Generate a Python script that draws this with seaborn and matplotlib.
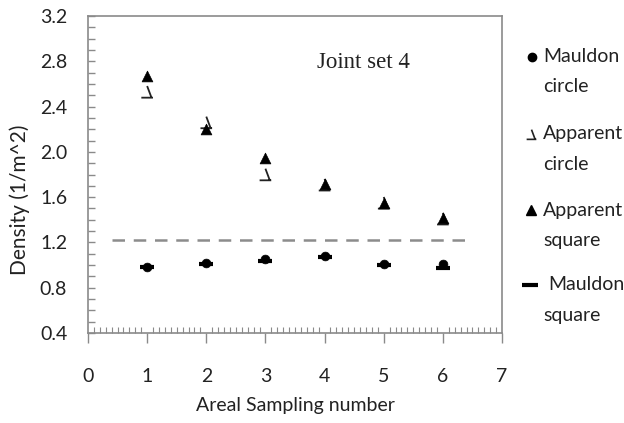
import numpy as np
import pandas as pd
import matplotlib
matplotlib.use("Agg")
import matplotlib.pyplot as plt
from matplotlib.path import Path
from matplotlib.lines import Line2D
import seaborn as sns

# ---- data ----
sampling = [1, 2, 3, 4, 5, 6]
mauldon_circle = [0.98, 1.02, 1.05, 1.08, 1.01, 1.01]
apparent_circle = [2.53, 2.26, 1.80, 1.71, 1.55, 1.41]
apparent_square = [2.67, 2.20, 1.95, 1.72, 1.55, 1.42]
mauldon_square = [0.98, 1.01, 1.04, 1.07, 1.00, 0.97]
ref_line_x = [0.4, 6.4]
ref_line_y = [1.22, 1.22]
series_labels = ["Mauldon\ncircle", "Apparent\ncircle", "Apparent\nsquare", "Mauldon\nsquare"]
y_ticks = [0.4, 0.8, 1.2, 1.6, 2.0, 2.4, 2.8, 3.2]
x_ticks = [0, 1, 2, 3, 4, 5, 6, 7]

sns.set_theme(style="white")
plt.rcParams['font.family'] = ['Lato', 'DejaVu Sans']

W, H = 624, 423
fig = plt.figure(figsize=(W / 100, H / 100), dpi=100)
ax = fig.add_axes([88 / W, 1 - 333 / H, 414 / W, 317 / H])

# custom angle marker for "Apparent circle"
angle_marker = Path([(-1, -1), (1, -1), (0, 1), (0.75, -1)],
                    [Path.MOVETO, Path.LINETO, Path.MOVETO, Path.LINETO])

df = pd.DataFrame({"x": sampling, "mc": mauldon_circle, "ac": apparent_circle,
                   "as": apparent_square, "ms": mauldon_square})

sns.lineplot(x=ref_line_x, y=ref_line_y, ax=ax, color="#8c8c8c", lw=1.8,
             dashes=False, linestyle=(0, (5, 3.5)))
sns.scatterplot(data=df, x="x", y="ac", ax=ax, marker=angle_marker, s=70,
                facecolor="none", edgecolor="#222222", linewidth=1.3)
sns.scatterplot(data=df, x="x", y="as", ax=ax, marker="^", s=60,
                color="black", edgecolor="black", linewidth=0.5)
sns.scatterplot(data=df, x="x", y="mc", ax=ax, marker="o", s=40,
                color="black", edgecolor="black", linewidth=0.5)
sns.scatterplot(data=df, x="x", y="ms", ax=ax, marker="_", s=110,
                color="black", linewidth=3.0)

ax.set_xlim(0, 7)
ax.set_ylim(0.4, 3.2)
ax.set_xticks(x_ticks)
ax.set_yticks(y_ticks)
ax.set_yticklabels([f"{v:.1f}" for v in y_ticks])
ax.set_xticks(np.arange(0, 7.001, 0.1), minor=True)
ax.set_yticks(np.arange(0.4, 3.2001, 0.1), minor=True)

spine_c = "#8a8a8a"
for s in ax.spines.values():
    s.set_color(spine_c)
    s.set_linewidth(1.2)

ax.tick_params(axis="y", which="both", direction="in", length=5, width=1,
               color=spine_c, left=True, right=False, pad=15, labelsize=14,
               labelcolor="#222222")
ax.tick_params(axis="x", which="major", direction="out", length=7, width=1,
               color=spine_c, bottom=True, pad=18, labelsize=14,
               labelcolor="#222222")
ax.tick_params(axis="x", which="minor", direction="in", length=4, width=0.8,
               color=spine_c, bottom=True)

ax.set_xlabel("Areal Sampling number", fontsize=14, color="#222222", va="center")
ax.set_ylabel("Density (1/m^2)", fontsize=15, color="#222222", va="center")
ax.xaxis.set_label_coords(0.5, -(405 - 333) / 317)
ax.yaxis.set_label_coords(-(88 - 20) / 414, (333 - 200) / 317)

ax.text(3.87, 2.79, "Joint set 4", family="Liberation Serif", fontsize=16.5,
        color="#222222", va="center", ha="left")

# legend drawn beside the plot
handles = [
    Line2D([], [], ls="", marker="o", ms=6, color="black"),
    Line2D([], [], ls="", marker=angle_marker, ms=7, mfc="none", mec="#222222", mew=1.2),
    Line2D([], [], ls="", marker="^", ms=7, color="black"),
    Line2D([], [], ls="", marker="_", ms=11, color="black", mew=3),
]
rows = [57, 134, 210, 285]
marker_x = [532, 531, 531, 530]
for h, lab, yy, mx in zip(handles, series_labels, rows, marker_x):
    l1, l2 = lab.split("\n")
    h.set_data([mx / W], [1 - yy / H])
    h.set_transform(fig.transFigure)
    fig.add_artist(h)
    xoff = 548 if l1 == "Mauldon" and yy > 250 else 543
    fig.text(xoff / W, 1 - yy / H, l1, fontsize=14, va="center", ha="left", color="#222222")
    fig.text(543 / W, 1 - (yy + 30) / H, l2, fontsize=14, va="center", ha="left", color="#222222")

fig.savefig("out.png", dpi=100)
